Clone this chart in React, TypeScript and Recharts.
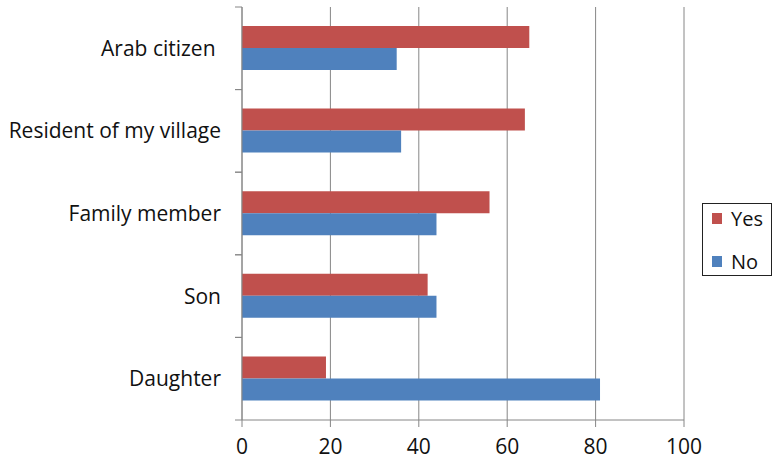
import React from 'react';
import { BarChart, Bar, XAxis, YAxis, CartesianGrid, Legend } from 'recharts';

const categories = ['Arab citizen\u00A0', 'Resident of my village', 'Family member', 'Son', 'Daughter'];
const yesValues = [65, 64, 56, 42, 19];
const noValues = [35, 36, 44, 44, 81];
const xTicks = [0, 20, 40, 60, 80, 100];
const legendOrder = ['Yes', 'No'];

const data = categories.map((name, i) => ({ name, Yes: yesValues[i], No: noValues[i] }));

const AXIS = '#868686';
const FONT = 'Open Sans, sans-serif';
const LABEL_GAP = 21;
const TICK_LEN = 7;

// category label plus tick marks on the band edges (Excel style)
const CategoryTick = (props: any) => {
    const { x, y, payload } = props;
    const half = payload.offset || 0;
    const axisX = x + LABEL_GAP;
    return (
        <g>
            <line x1={axisX - TICK_LEN} x2={axisX} y1={y - half} y2={y - half} stroke={AXIS} />
            <line x1={axisX - TICK_LEN} x2={axisX} y1={y + half} y2={y + half} stroke={AXIS} />
            <text x={x} y={y} dy="0.355em" textAnchor="end" fill="#111" fontSize={21} fontFamily={FONT}>
                {payload.value}
            </text>
        </g>
    );
};

const LegendBox = (props: any) => {
    const items = [...(props.payload || [])].sort(
        (a: any, b: any) => legendOrder.indexOf(a.value) - legendOrder.indexOf(b.value)
    );
    return (
        <div style={{
            border: '1px solid #222',
            background: '#fff',
            padding: '3px 0 3px 9px',
            fontFamily: FONT,
            fontSize: 20,
            color: '#111',
            boxSizing: 'border-box',
            height: 73,
            display: 'flex',
            flexDirection: 'column',
            justifyContent: 'space-between',
        }}>
            {items.map((it: any) => (
                <div key={it.value} style={{ display: 'flex', alignItems: 'center', height: 22 }}>
                    <span style={{ width: 10, height: 11, background: it.color, display: 'inline-block', marginRight: 9 }} />
                    <span>{it.value}</span>
                </div>
            ))}
        </div>
    );
};

export default function App() {
    return (
        <div style={{ position: 'absolute', left: 0, top: 0, width: 772, height: 463, background: '#fff', fontFamily: FONT }}>
            <BarChart
                width={772}
                height={463}
                data={data}
                layout="vertical"
                margin={{ top: 7, right: 18, bottom: 13, left: 0 }}
                barCategoryGap="23%"
                barGap={0}
            >
                <CartesianGrid horizontal={false} vertical stroke={AXIS} strokeWidth={1} />
                <XAxis
                    type="number"
                    domain={[0, 100]}
                    ticks={xTicks}
                    interval={0}
                    height={30}
                    stroke={AXIS}
                    tickSize={TICK_LEN}
                    tickMargin={12}
                    tick={{ fill: '#111', fontSize: 21, fontFamily: FONT }}
                />
                <YAxis
                    type="category"
                    dataKey="name"
                    width={242}
                    stroke={AXIS}
                    tickLine={false}
                    tickSize={0}
                    tickMargin={LABEL_GAP}
                    interval={0}
                    tick={<CategoryTick />}
                />
                <Legend
                    layout="horizontal"
                    align="right"
                    verticalAlign="middle"
                    content={<LegendBox />}
                    wrapperStyle={{ left: 702, top: 203, width: 70, right: 'auto', bottom: 'auto' }}
                />
                <Bar dataKey="Yes" fill="#C0504D" isAnimationActive={false} />
                <Bar dataKey="No" fill="#4F81BD" isAnimationActive={false} />
            </BarChart>
        </div>
    );
}
